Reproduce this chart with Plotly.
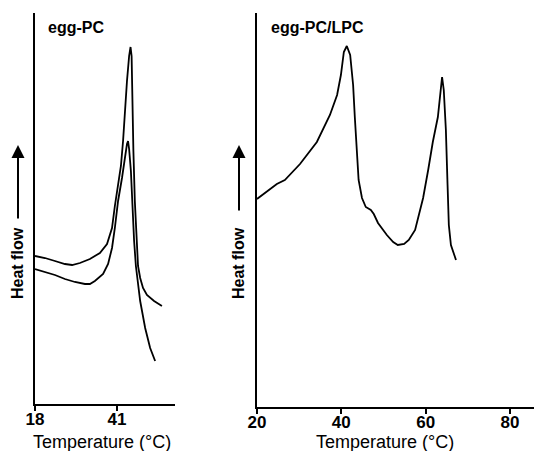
import plotly.graph_objects as go

# ---- Data (heat flow in arbitrary units) ----
# Left panel: egg-PC, two scans
pc_scan1_temp = [18.0, 20.8, 23.6, 26.4, 28.4, 30.6, 33.4, 36.2, 38.2, 39.6, 40.4, 41.3, 42.1,
                 42.7, 43.2, 43.8, 44.4, 44.8, 45.1, 45.3, 45.6, 46.0, 46.5, 46.9, 47.5, 48.3,
                 49.4, 51.4, 53.6]
pc_scan1_flow = [148, 146, 143, 140, 139, 141, 145, 151, 160, 176, 198, 218, 238,
                 263, 293, 323, 348, 357, 348, 303, 253, 203, 163, 138, 126, 116,
                 109, 103, 98]

pc_scan2_temp = [18.0, 20.8, 23.6, 26.4, 29.2, 32.0, 33.4, 34.8, 37.1, 38.5, 39.6, 40.4, 41.3,
                 42.4, 43.2, 43.8, 44.1, 44.4, 44.9, 45.3, 45.8, 46.3, 46.9, 47.5, 48.9,
                 50.3, 51.7]
pc_scan2_flow = [135, 132, 129, 125, 122, 120, 120, 123, 130, 140, 156, 176, 203,
                 226, 248, 260, 263, 255, 233, 193, 163, 138, 120, 103, 76,
                 56, 43]

# Right panel: egg-PC/LPC
lpc_temp = [20.0, 21.9, 23.6, 24.7, 26.6, 30.2, 34.2, 37.3, 39.0, 39.9, 40.6, 41.3, 42.1,
            42.8, 43.2, 43.7, 44.1, 44.9, 45.8, 47.0, 47.7, 48.7, 50.8, 52.3, 53.4, 54.9,
            56.0, 57.5, 58.4, 59.4, 60.6, 61.7, 62.9, 63.6, 63.9, 64.3, 64.8, 65.2, 65.5,
            66.0, 66.7, 67.2]
lpc_flow = [208, 214, 219, 223, 227, 243, 265, 292, 312, 332, 355, 361, 352,
            322, 290, 252, 227, 209, 200, 197, 193, 184, 172, 165, 162, 163,
            167, 177, 192, 209, 237, 265, 290, 322, 330, 317, 277, 222, 182,
            162, 152, 147]

left_ticks = [18, 41]
left_ticktext = ["18", "41"]
right_ticks = [20, 40, 60, 80]
right_ticktext = ["20", "40", "60", "80"]

panel_titles = ["egg-PC", "egg-PC/LPC"]
x_title = "Temperature (°C)"
y_title = "Heat flow"

# ---- Figure ----
FONT = "Liberation Sans, Arial, sans-serif"
line_style = dict(color="black", width=1.8)

fig = go.Figure()
fig.add_trace(go.Scatter(x=pc_scan1_temp, y=pc_scan1_flow, mode="lines", line=line_style,
                         xaxis="x", yaxis="y", showlegend=False))
fig.add_trace(go.Scatter(x=pc_scan2_temp, y=pc_scan2_flow, mode="lines", line=line_style,
                         xaxis="x", yaxis="y", showlegend=False))
fig.add_trace(go.Scatter(x=lpc_temp, y=lpc_flow, mode="lines", line=line_style,
                         xaxis="x2", yaxis="y2", showlegend=False))

OFF = 8  # page body margin in the browser
W, H = 542 - OFF, 451 - OFF
ML, MR, MT, MB = 35 - OFF, 0, 13 - OFF, 44
PW, PH = W - ML - MR, H - MT - MB


def px(xp):
    return (xp - OFF - ML) / PW


def py(yp):
    return 1 - (yp - OFF - MT) / PH


tickfont = dict(family=FONT, size=17, color="black")
common_x = dict(showline=True, linecolor="black", linewidth=2, ticks="outside",
                ticklen=5, tickwidth=2, tickcolor="black", showgrid=False,
                zeroline=False, tickfont=tickfont, tickmode="array",
                ticklabelstandoff=-6)
common_y = dict(showline=True, linecolor="black", linewidth=2, ticks="",
                showticklabels=False, showgrid=False, zeroline=False)

fig.update_layout(
    width=W, height=H,
    margin=dict(l=ML, r=MR, t=MT, b=MB),
    plot_bgcolor="white", paper_bgcolor="white",
    font=dict(family=FONT, color="black"),
    xaxis=dict(domain=[0, px(175)], range=[18, 57.27], anchor="y",
               tickvals=left_ticks, ticktext=[f"<b>{t}</b>" for t in left_ticktext],
               **common_x),
    yaxis=dict(domain=[(407 - 404) / PH, 1], range=[0, 391], anchor="x", **common_y),
    xaxis2=dict(domain=[px(257), 1], range=[20, 87.6], anchor="y2",
                tickvals=right_ticks, ticktext=[f"<b>{t}</b>" for t in right_ticktext],
                **common_x),
    yaxis2=dict(domain=[0, 1], range=[0, 394], anchor="x2", **common_y),
)

ann = []
# panel titles
ann.append(dict(text=f"<b>{panel_titles[0]}</b>", x=px(46), y=py(27), xref="paper", yref="paper",
                xanchor="left", yanchor="middle", showarrow=False,
                font=dict(family=FONT, size=16, color="black")))
ann.append(dict(text=f"<b>{panel_titles[1]}</b>", x=px(269), y=py(27), xref="paper", yref="paper",
                xanchor="left", yanchor="middle", showarrow=False,
                font=dict(family=FONT, size=16, color="black")))
# x titles
for cx in (102, 385):
    ann.append(dict(text=x_title, x=px(cx), y=py(442), xref="paper", yref="paper",
                    xanchor="center", yanchor="middle", showarrow=False,
                    font=dict(family=FONT, size=18, color="black")))
# y titles with arrows
for cx, tail in ((17, 220), (238, 212)):
    ann.append(dict(text=f"<b>{y_title}</b>", x=px(cx), y=py(263), xref="paper", yref="paper",
                    xanchor="center", yanchor="middle", textangle=-90, showarrow=False,
                    font=dict(family=FONT, size=16, color="black")))
    ann.append(dict(text="", x=px(cx + 1), y=py(145), xref="paper", yref="paper",
                    ax=0, ay=tail - 145, axref="pixel", ayref="pixel",
                    showarrow=True, arrowhead=2, arrowsize=1.3, arrowwidth=2,
                    arrowcolor="black"))
fig.update_layout(annotations=ann)

fig.write_html("out.html")
